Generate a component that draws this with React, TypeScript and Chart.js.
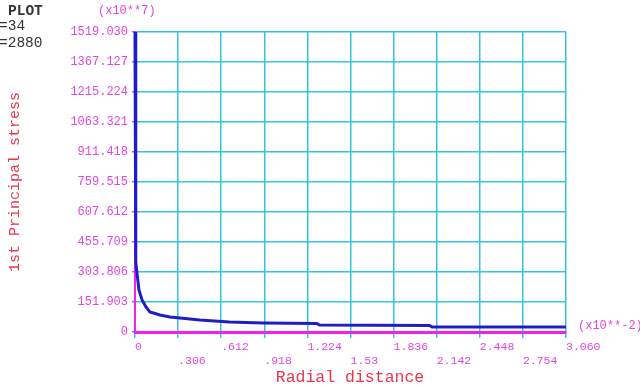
import React, { useEffect, useRef } from "react";
import { Chart, registerables } from "chart.js";

Chart.register(...registerables);

// Radial distance (x10**-2) and 1st principal stress (x10**7)
const radialX = [0, 0.004, 0.007, 0.014, 0.028, 0.05, 0.078, 0.106, 0.177, 0.248, 0.32, 0.46, 0.67, 0.91, 1.29, 1.31, 2.09, 2.11, 3.06];
const stressY = [1519.03, 415, 354, 299, 213, 162, 127, 101, 86, 76, 71, 61, 51, 46, 43, 35, 33, 25, 25];

const xTickValues = [0, 0.306, 0.612, 0.918, 1.224, 1.53, 1.836, 2.142, 2.448, 2.754, 3.06];
const xTickLabels = ["0", ".306", ".612", ".918", "1.224", "1.53", "1.836", "2.142", "2.448", "2.754", "3.060"];
const yTickValues = [0, 151.903, 303.806, 455.709, 607.612, 759.515, 911.418, 1063.321, 1215.224, 1367.127, 1519.03];
const yTickLabels = ["0", "151.903", "303.806", "455.709", "607.612", "759.515", "911.418", "1063.321", "1215.224", "1367.127", "1519.030"];

const headerLines = ["PLOT", "=34", "=2880"];
const yTitle = "1st Principal stress";
const xTitle = "Radial distance";
const yExp = "(x10**7)";
const xExp = "(x10**-2)";

const MONO = "'Liberation Mono', 'DejaVu Sans Mono', monospace";
const MAGENTA = "#e046e0";
const AXIS = "#ee22ee";
const GRID = "#34c4de";
const RED = "#e8364c";

const textPlugin = {
  id: "annotTexts",
  afterDraw(chart: any) {
    const ctx = chart.ctx;
    const area = chart.chartArea;
    ctx.save();
    // header
    ctx.fillStyle = "#333333";
    ctx.textBaseline = "middle";
    ctx.textAlign = "left";
    ctx.font = `bold 14.5px ${MONO}`;
    ctx.fillText(headerLines[0], 8, 11);
    ctx.font = `14.5px ${MONO}`;
    ctx.fillText(headerLines[1], -1, 26);
    ctx.fillText(headerLines[2], -1, 43);
    // exponents
    ctx.fillStyle = MAGENTA;
    ctx.font = `12px ${MONO}`;
    ctx.fillText(yExp, 98, 11);
    ctx.fillText(xExp, area.right + 12, area.bottom - 6);
    // axis titles
    ctx.fillStyle = RED;
    ctx.font = `16.5px ${MONO}`;
    ctx.textAlign = "center";
    ctx.fillText(xTitle, 350, 378);
    ctx.translate(15, 182);
    ctx.rotate(-Math.PI / 2);
    ctx.font = `15px ${MONO}`;
    ctx.fillText(yTitle, 0, 0);
    ctx.restore();
  },
};

export default function App() {
  const ref = useRef<HTMLCanvasElement | null>(null);
  useEffect(() => {
    document.body.style.margin = "0";
    const canvas = ref.current;
    if (!canvas) return;
    const chart = new Chart(canvas, {
      type: "line",
      data: {
        datasets: [
          {
            data: radialX.map((x, i) => ({ x, y: stressY[i] })),
            borderColor: "#1e1ec8",
            borderWidth: 3,
            pointRadius: 0,
            tension: 0,
            fill: false,
            clip: false as any,
          },
        ],
      },
      options: {
        animation: false,
        responsive: false,
        maintainAspectRatio: false,
        layout: { padding: { left: 0, right: 74, top: 32, bottom: 0 } },
        plugins: { legend: { display: false }, tooltip: { enabled: false } },
        scales: {
          x: {
            type: "linear",
            min: 0,
            max: 3.06,
            afterBuildTicks: (s: any) => {
              s.ticks = xTickValues.map((v) => ({ value: v }));
            },
            afterFit: (s: any) => {
              s.height = 57;
            },
            grid: { color: GRID, lineWidth: 1.5, tickLength: 6, tickColor: GRID },
            border: { color: AXIS, width: 3 },
            ticks: {
              align: "start",
              maxRotation: 0,
              autoSkip: false,
              padding: 2,
              color: MAGENTA,
              font: { family: MONO, size: 11.5 },
              callback: (_v: any, i: number) => (i % 2 === 0 ? [xTickLabels[i], ""] : ["", xTickLabels[i]]),
            },
          },
          y: {
            type: "linear",
            min: 0,
            max: 1519.03,
            afterBuildTicks: (s: any) => {
              s.ticks = yTickValues.map((v) => ({ value: v }));
            },
            afterFit: (s: any) => {
              s.width = 135;
            },
            grid: { color: GRID, lineWidth: 1.5, tickLength: 3, tickColor: MAGENTA },
            border: { color: AXIS, width: 2 },
            ticks: {
              autoSkip: false,
              padding: 4,
              color: MAGENTA,
              font: { family: MONO, size: 12 },
              callback: (_v: any, i: number) => yTickLabels[i],
            },
          },
        },
      },
      plugins: [textPlugin],
    } as any);
    return () => chart.destroy();
  }, []);
  return (
    <div style={{ width: 640, height: 389, position: "relative", background: "#ffffff" }}>
      <canvas ref={ref} width={640} height={389} style={{ display: "block" }} />
    </div>
  );
}
